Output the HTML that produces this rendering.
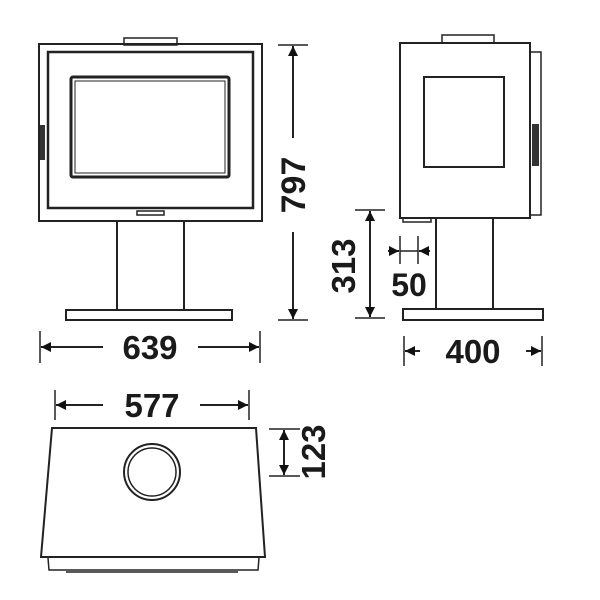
<!DOCTYPE html>
<html><head><style>body{margin:0;background:#fff}svg{display:block}text{font-family:"Liberation Sans",sans-serif;fill:#1a1a1a;font-weight:bold}</style></head>
<body>
<svg width="600" height="600" viewBox="0 0 600 600" xmlns="http://www.w3.org/2000/svg">
<defs>
<marker id="a" viewBox="0 0 10 10" refX="10" refY="5" markerWidth="14" markerHeight="10" markerUnits="userSpaceOnUse" orient="auto-start-reverse"><path d="M0,0L10,5L0,10z" fill="#111"/></marker>
</defs>
<g fill="none" stroke="#222" stroke-width="2">
<!-- front view -->
<rect x="124" y="38" width="53" height="7" stroke-width="1.5"/>
<rect x="39" y="44" width="223" height="177"/>
<rect x="48" y="52" width="205" height="156" stroke-width="2.5"/>
<rect x="71" y="77" width="158" height="100" rx="2" stroke-width="3"/>
<rect x="75" y="81" width="150" height="92" stroke-width="1"/>
<rect x="40" y="125" width="5" height="35" fill="#333" stroke="none"/>
<rect x="137" y="211" width="27" height="4" stroke-width="1.5"/>
<line x1="117" y1="221" x2="117" y2="310"/>
<line x1="184" y1="221" x2="184" y2="310"/>
<rect x="66" y="310" width="166" height="10"/>
<!-- 797 -->
<line x1="278" y1="45" x2="308" y2="45" stroke-width="1.5"/>
<line x1="278" y1="320" x2="308" y2="320" stroke-width="1.5"/>
<line x1="293" y1="138" x2="293" y2="46" marker-end="url(#a)"/>
<line x1="293" y1="232" x2="293" y2="319" marker-end="url(#a)"/>
<!-- 639 -->
<line x1="40" y1="331" x2="40" y2="363" stroke-width="1.5"/>
<line x1="260" y1="331" x2="260" y2="363" stroke-width="1.5"/>
<line x1="103" y1="347" x2="41" y2="347" marker-end="url(#a)"/>
<line x1="198" y1="347" x2="259" y2="347" marker-end="url(#a)"/>
<!-- side view -->
<rect x="442" y="35" width="52" height="8" stroke-width="1.5"/>
<rect x="400" y="43" width="130" height="175"/>
<rect x="424" y="77" width="80" height="90"/>
<rect x="530" y="52" width="11" height="163" stroke-width="1.5"/>
<rect x="532" y="124" width="7" height="42" fill="#333" stroke="none"/>
<rect x="403" y="218" width="28" height="4" stroke-width="1.5"/>
<line x1="436" y1="218" x2="436" y2="309"/>
<line x1="493" y1="218" x2="493" y2="309"/>
<rect x="403" y="309" width="140" height="11"/>
<!-- 313 -->
<line x1="355" y1="210" x2="385" y2="210" stroke-width="1.5"/>
<line x1="355" y1="318" x2="385" y2="318" stroke-width="1.5"/>
<line x1="370" y1="264" x2="370" y2="211" marker-end="url(#a)"/>
<line x1="370" y1="264" x2="370" y2="317" marker-end="url(#a)"/>
<!-- 50 -->
<line x1="400" y1="236" x2="400" y2="264" stroke-width="1.5"/>
<line x1="418" y1="236" x2="418" y2="264" stroke-width="1.5"/>
<line x1="388" y1="251" x2="399" y2="251" marker-end="url(#a)"/>
<line x1="430" y1="251" x2="419" y2="251" marker-end="url(#a)"/>
<line x1="400" y1="251" x2="418" y2="251" stroke-width="1.5"/>
<!-- 400 -->
<line x1="404" y1="336" x2="404" y2="366" stroke-width="1.5"/>
<line x1="542" y1="336" x2="542" y2="366" stroke-width="1.5"/>
<line x1="420" y1="351" x2="405" y2="351" marker-end="url(#a)"/>
<line x1="526" y1="351" x2="541" y2="351" marker-end="url(#a)"/>
<!-- 577 -->
<line x1="55" y1="390" x2="55" y2="420" stroke-width="1.5"/>
<line x1="249" y1="390" x2="249" y2="420" stroke-width="1.5"/>
<line x1="103" y1="405" x2="56" y2="405" marker-end="url(#a)"/>
<line x1="200" y1="405" x2="248" y2="405" marker-end="url(#a)"/>
<!-- bottom view -->
<path d="M52,428 L256,428 L265,557 L41,557 Z"/>
<path d="M48,558 L49,570 L258,570 L259,558" stroke-width="1.5"/>
<line x1="66" y1="572" x2="238" y2="572" stroke-width="1.5"/>
<circle cx="152" cy="472" r="28" stroke-width="2"/>
<circle cx="152" cy="472" r="24" stroke-width="1.5"/>
<!-- 123 -->
<line x1="269" y1="429" x2="300" y2="429" stroke-width="1.5"/>
<line x1="269" y1="476" x2="300" y2="476" stroke-width="1.5"/>
<line x1="284" y1="452" x2="284" y2="430" marker-end="url(#a)"/>
<line x1="284" y1="452" x2="284" y2="475" marker-end="url(#a)"/>
</g>
<text x="150" y="359" font-size="33" text-anchor="middle">639</text>
<text x="473" y="363" font-size="33" text-anchor="middle">400</text>
<text x="152" y="417" font-size="33" text-anchor="middle">577</text>
<text x="409" y="296" font-size="32" text-anchor="middle">50</text>
<text transform="translate(305,185) rotate(-90)" font-size="34" text-anchor="middle">797</text>
<text transform="translate(355,266) rotate(-90)" font-size="33" text-anchor="middle">313</text>
<text transform="translate(325,452) rotate(-90)" font-size="33" text-anchor="middle">123</text>
</svg>
</body></html>
